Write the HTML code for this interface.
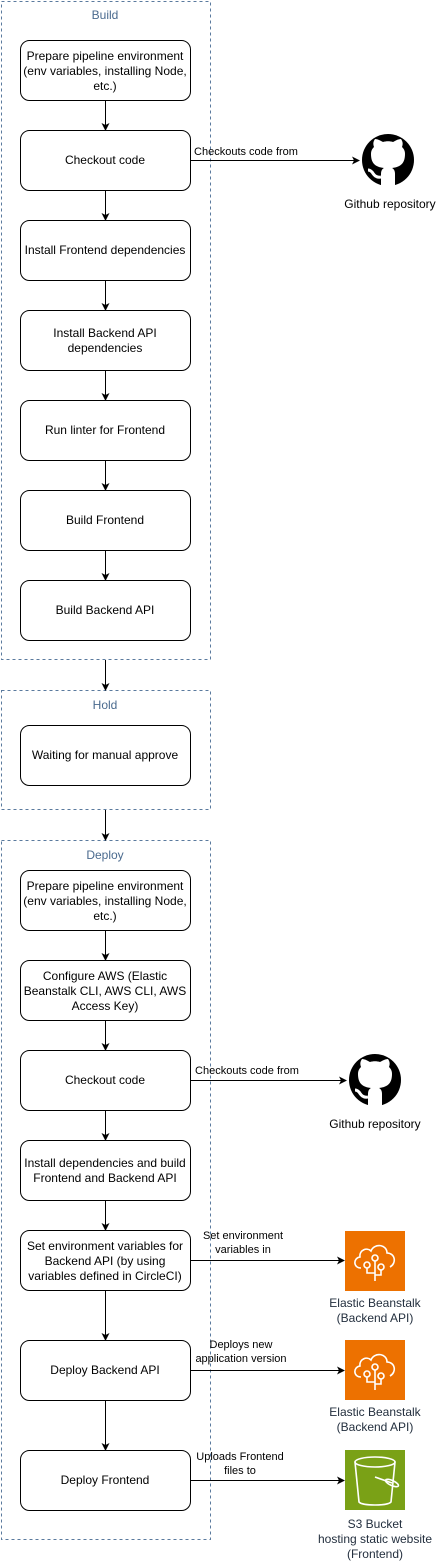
<!DOCTYPE html>
<html><head><meta charset="utf-8"><style>
html,body{margin:0;padding:0;background:#fff;}
svg{display:block;font-family:"Liberation Sans",Helvetica,Arial,sans-serif;}
</style></head><body>
<svg width="436" height="1561" viewBox="0 0 436 1561" xmlns="http://www.w3.org/2000/svg">
<defs>
<marker id="a" markerWidth="8" markerHeight="8" refX="7" refY="4" orient="auto" markerUnits="userSpaceOnUse">
<path d="M0,0 L8,4 L0,8 L2,4 Z" fill="#000"/></marker>
<g id="gh"><circle cx="0" cy="0" r="26" fill="#000"/>
<path d="M-7,26 L-7,14 C-7,11 -6,9 -4,8 C-13,7 -17,3 -17,-6 C-17,-9 -16,-11 -14,-13 C-15,-16 -15,-18 -13,-21 C-10,-21 -7,-19 -5,-18 C-2,-19 2,-19 5,-18 C7,-19 10,-21 13,-21 C15,-18 15,-16 14,-13 C16,-11 17,-9 17,-6 C17,3 13,7 4,8 C6,9 7,11 7,14 L7,26 Z" fill="#fff"/>
<path d="M-7,17 C-12,18 -14,15 -16,12 C-17,11 -19,10 -20,10" stroke="#fff" stroke-width="3" fill="none"/></g>
<g id="eb"><rect x="0" y="0" width="60" height="60" fill="#ED7100"/>
<g fill="none" stroke="#fff" stroke-width="1.6">
<path d="M16,37 C8,37 8,27 15,26 C14,19 22,16 26,20 C29,12 42,13 42,22 C50,22 52,32 45,36"/>
<circle cx="22" cy="34" r="3"/><circle cx="30" cy="27" r="3"/><circle cx="36" cy="36" r="3"/>
<path d="M22,37 V42 H30 M30,30 V50 M36,39 V44 H30"/></g></g>
</defs>

<g fill="none" stroke="#5a7a9e" stroke-width="1" stroke-dasharray="3,3">
<rect x="1.5" y="1.5" width="209" height="658"/>
<rect x="1.5" y="690.5" width="209" height="119"/>
<rect x="1.5" y="840.5" width="209" height="699"/>
</g>
<g fill="#4a6a8e" font-size="12" text-anchor="middle">
<text x="105" y="19">Build</text><text x="105" y="709">Hold</text><text x="105" y="859">Deploy</text>
</g>

<g fill="#fff" stroke="#000" stroke-width="1">
<rect x="20.5" y="40.5" width="170" height="60" rx="9"/>
<rect x="20.5" y="130.5" width="170" height="60" rx="9"/>
<rect x="20.5" y="220.5" width="170" height="60" rx="9"/>
<rect x="20.5" y="310.5" width="170" height="60" rx="9"/>
<rect x="20.5" y="400.5" width="170" height="60" rx="9"/>
<rect x="20.5" y="490.5" width="170" height="60" rx="9"/>
<rect x="20.5" y="580.5" width="170" height="60" rx="9"/>
<rect x="20.5" y="725.5" width="170" height="60" rx="9"/>
<rect x="20.5" y="870.5" width="170" height="60" rx="9"/>
<rect x="20.5" y="960.5" width="170" height="60" rx="9"/>
<rect x="20.5" y="1050.5" width="170" height="60" rx="9"/>
<rect x="20.5" y="1140.5" width="170" height="60" rx="9"/>
<rect x="20.5" y="1230.5" width="170" height="60" rx="9"/>
<rect x="20.5" y="1340.5" width="170" height="60" rx="9"/>
<rect x="20.5" y="1450.5" width="170" height="60" rx="9"/>
</g>
<g font-size="12" text-anchor="middle" fill="#000">
<text x="105" y="60">Prepare pipeline environment</text><text x="105" y="75">(env variables, installing Node,</text><text x="105" y="90">etc.)</text>
<text x="105" y="164">Checkout code</text>
<text x="105" y="254">Install Frontend dependencies</text>
<text x="105" y="337">Install Backend API</text><text x="105" y="352">dependencies</text>
<text x="105" y="434">Run linter for Frontend</text>
<text x="105" y="524">Build Frontend</text>
<text x="105" y="614">Build Backend API</text>
<text x="105" y="759">Waiting for manual approve</text>
<text x="105" y="890">Prepare pipeline environment</text><text x="105" y="905">(env variables, installing Node,</text><text x="105" y="920">etc.)</text>
<text x="105" y="980">Configure AWS (Elastic</text><text x="105" y="995">Beanstalk CLI, AWS CLI, AWS</text><text x="105" y="1010">Access Key)</text>
<text x="105" y="1084">Checkout code</text>
<text x="105" y="1167">Install dependencies and build</text><text x="105" y="1182">Frontend and Backend API</text>
<text x="105" y="1250">Set environment variables for</text><text x="105" y="1265">Backend API (by using</text><text x="105" y="1280">variables defined in CircleCI)</text>
<text x="105" y="1374">Deploy Backend API</text>
<text x="105" y="1484">Deploy Frontend</text>
</g>

<g stroke="#000" stroke-width="1" marker-end="url(#a)">
<line x1="105.5" y1="101" x2="105.5" y2="130"/>
<line x1="105.5" y1="191" x2="105.5" y2="220"/>
<line x1="105.5" y1="281" x2="105.5" y2="310"/>
<line x1="105.5" y1="371" x2="105.5" y2="400"/>
<line x1="105.5" y1="461" x2="105.5" y2="490"/>
<line x1="105.5" y1="551" x2="105.5" y2="580"/>
<line x1="105.5" y1="660" x2="105.5" y2="690"/>
<line x1="105.5" y1="810" x2="105.5" y2="840"/>
<line x1="105.5" y1="931" x2="105.5" y2="960"/>
<line x1="105.5" y1="1021" x2="105.5" y2="1050"/>
<line x1="105.5" y1="1111" x2="105.5" y2="1140"/>
<line x1="105.5" y1="1201" x2="105.5" y2="1230"/>
<line x1="105.5" y1="1291" x2="105.5" y2="1340"/>
<line x1="105.5" y1="1401" x2="105.5" y2="1450"/>
<line x1="191" y1="160.5" x2="359" y2="160.5"/>
<line x1="191" y1="1080.5" x2="346" y2="1080.5"/>
<line x1="191" y1="1260.5" x2="344" y2="1260.5"/>
<line x1="191" y1="1370.5" x2="344" y2="1370.5"/>
<line x1="191" y1="1480.5" x2="344" y2="1480.5"/>
</g>

<g font-size="11" fill="#000" text-anchor="middle">
<text x="246" y="155">Checkouts code from</text>
<text x="247" y="1074">Checkouts code from</text>
<text x="243" y="1239">Set environment</text><text x="243" y="1253">variables in</text>
<text x="241" y="1348">Deploys new</text><text x="241" y="1362">application version</text>
<text x="240" y="1460">Uploads Frontend</text><text x="240" y="1474">files to</text>
</g>

<use href="#gh" x="388" y="160"/>
<text x="390" y="208" font-size="12" text-anchor="middle">Github repository</text>
<use href="#gh" x="375" y="1080"/>
<text x="375" y="1128" font-size="12" text-anchor="middle">Github repository</text>

<use href="#eb" x="345" y="1231"/>
<g font-size="12" fill="#232f3e" text-anchor="middle"><text x="375" y="1307">Elastic Beanstalk</text><text x="375" y="1322">(Backend API)</text></g>
<use href="#eb" x="345" y="1340"/>
<g font-size="12" fill="#232f3e" text-anchor="middle"><text x="375" y="1416">Elastic Beanstalk</text><text x="375" y="1431">(Backend API)</text></g>

<rect x="345" y="1450" width="60" height="60" fill="#7AA116"/>
<g fill="none" stroke="#fff" stroke-width="1.6">
<ellipse cx="375" cy="1462" rx="20" ry="5"/>
<path d="M355,1462 L359,1502 C362,1506 388,1506 391,1502 L395,1462"/>
<ellipse cx="392" cy="1483" rx="7" ry="2.5" transform="rotate(25 392 1483)"/>
<line x1="375" y1="1477" x2="392" y2="1483"/>
</g>
<g font-size="12" fill="#232f3e" text-anchor="middle"><text x="375" y="1528">S3 Bucket</text><text x="375" y="1543">hosting static website</text><text x="375" y="1558">(Frontend)</text></g>
</svg>
</body></html>
